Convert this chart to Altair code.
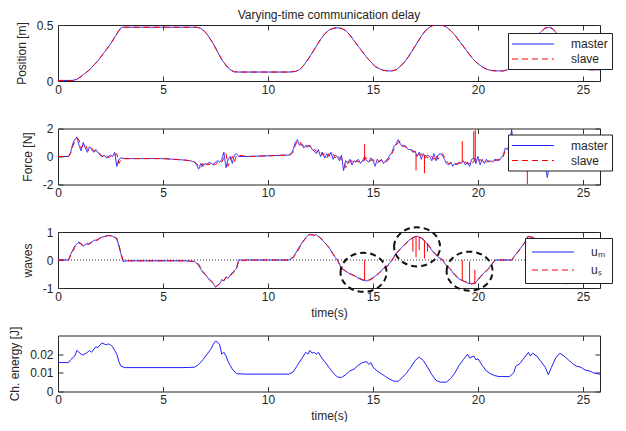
import altair as alt
import pandas as pd

FONT = "Liberation Sans"
TXT = "#262626"
W = 542
H = 56
XMAX = 25.81
BLUE = "#1f1fff"
RED = "#ff0000"

# ---------------- Position [m] ----------------
pos_t = [0, 0.7, 0.9, 1.1, 1.3, 1.5, 1.7, 1.9, 2.1, 2.3,
         2.5, 2.7, 2.9, 3.0, 3.1, 4, 5, 6, 6.6, 6.8,
         7.0, 7.2, 7.4, 7.6, 7.8, 8.0, 8.2, 8.4, 8.6, 9,
         10, 11, 11.3, 11.5, 11.7, 11.9, 12.1, 12.3, 12.5, 12.7,
         12.9, 13.1, 13.3, 13.5, 13.7, 13.9, 14.1, 14.3, 14.5, 14.7,
         14.9, 15.1, 15.3, 15.5, 15.7, 15.9, 16.1, 16.3, 16.5, 16.7,
         16.9, 17.1, 17.3, 17.5, 17.7, 17.9, 18.1, 18.3, 18.5, 18.7,
         18.9, 19.1, 19.3, 19.5, 19.7, 19.9, 20.1, 20.3, 20.5, 20.7,
         20.9, 21.2, 21.4, 21.6, 21.8, 22.0, 22.2, 22.4, 22.6, 22.8,
         23.0, 23.2, 23.4, 23.6, 23.8, 24.0, 24.2, 24.4, 24.6, 24.8,
         25.0, 25.3, 26, 27.1]
pos_master = [0.005, 0.005, 0.015, 0.04, 0.07, 0.1, 0.14, 0.18, 0.23, 0.28,
              0.33, 0.39, 0.45, 0.475, 0.48, 0.48, 0.48, 0.48, 0.48, 0.47,
              0.44, 0.39, 0.33, 0.26, 0.19, 0.14, 0.1, 0.082, 0.08, 0.08,
              0.08, 0.08, 0.085, 0.1, 0.14, 0.19, 0.25, 0.31, 0.37, 0.42,
              0.455, 0.47, 0.475, 0.47, 0.45, 0.41, 0.36, 0.31, 0.26, 0.21,
              0.17, 0.13, 0.11, 0.095, 0.09, 0.09, 0.1, 0.13, 0.17, 0.22,
              0.28, 0.34, 0.4, 0.45, 0.48, 0.5, 0.5, 0.5, 0.48, 0.45,
              0.41, 0.36, 0.31, 0.26, 0.21, 0.17, 0.14, 0.115, 0.1, 0.092,
              0.09, 0.09, 0.1, 0.12, 0.16, 0.2, 0.25, 0.3, 0.35, 0.4,
              0.44, 0.47, 0.48, 0.46, 0.41, 0.35, 0.28, 0.22, 0.17, 0.13,
              0.11, 0.1, 0.1, 0.1]
pos_slave = [0.005, 0.005, 0.015, 0.04, 0.07, 0.1, 0.14, 0.18, 0.23, 0.28,
             0.33, 0.39, 0.45, 0.475, 0.48, 0.48, 0.48, 0.48, 0.48, 0.47,
             0.44, 0.39, 0.33, 0.26, 0.19, 0.14, 0.1, 0.082, 0.08, 0.08,
             0.08, 0.08, 0.085, 0.1, 0.14, 0.19, 0.25, 0.31, 0.37, 0.42,
             0.455, 0.47, 0.475, 0.47, 0.45, 0.41, 0.36, 0.31, 0.26, 0.21,
             0.17, 0.13, 0.11, 0.095, 0.09, 0.09, 0.1, 0.13, 0.17, 0.22,
             0.28, 0.34, 0.4, 0.45, 0.48, 0.5, 0.5, 0.5, 0.48, 0.45,
             0.41, 0.36, 0.31, 0.26, 0.21, 0.17, 0.14, 0.115, 0.1, 0.092,
             0.09, 0.09, 0.1, 0.12, 0.16, 0.2, 0.25, 0.3, 0.35, 0.4,
             0.44, 0.475, 0.49, 0.46, 0.41, 0.35, 0.28, 0.22, 0.17, 0.13,
             0.11, 0.1, 0.1, 0.1]

# ---------------- Force [N] ----------------
force_t = [0.0, 0.5, 0.6, 0.7, 0.8, 0.9, 1.0, 1.1, 1.2, 1.3,
           1.4, 1.5, 1.6, 1.7, 1.8, 1.9, 2.0, 2.1, 2.2, 2.3,
           2.4, 2.5, 2.6, 2.7, 2.8, 2.9, 3.0, 3.2, 4.0, 5.0,
           5.5, 6.0, 6.3, 6.5, 6.6, 6.7, 6.8, 6.9, 7.0, 7.1,
           7.2, 7.3, 7.4, 7.5, 7.6, 7.7, 7.8, 7.9, 8.0, 8.1,
           8.2, 8.3, 8.4, 8.5, 8.6, 9.0, 10.0, 10.9, 11.0, 11.1,
           11.2, 11.3, 11.4, 11.5, 11.6, 11.7, 11.8, 11.9, 12.0, 12.1,
           12.2, 12.3, 12.4, 12.5, 12.6, 12.7, 12.8, 12.9, 13.0, 13.1,
           13.2, 13.3, 13.4, 13.5, 13.6, 13.7, 13.8, 13.9, 14.0, 14.1,
           14.2, 14.3, 14.4, 14.5, 14.6, 14.7, 14.8, 14.9, 15.0, 15.1,
           15.2, 15.3, 15.4, 15.5, 15.6, 15.7, 15.8, 15.9, 16.0, 16.1,
           16.2, 16.3, 16.4, 16.5, 16.6, 16.7, 16.8, 16.9, 17.0, 17.1,
           17.2, 17.3, 17.4, 17.5, 17.6, 17.7, 17.8, 17.9, 18.0, 18.1,
           18.2, 18.3, 18.4, 18.5, 18.6, 18.7, 18.8, 18.9, 19.0, 19.1,
           19.2, 19.3, 19.4, 19.5, 19.6, 19.7, 19.8, 19.9, 20.0, 20.1,
           20.2, 20.3, 20.4, 20.5, 20.6, 20.7, 20.8, 21.0, 21.1, 21.2,
           21.3, 21.4, 21.5, 21.6, 21.7, 21.8, 21.9, 22.0, 22.1, 22.2,
           22.3, 22.4, 22.5, 22.6, 22.8, 23.0, 23.2, 23.3, 23.4, 23.6,
           24.0, 25.0, 26.0, 27.1]
force_master = [0.0, 0.0, 0.3, 0.9, 1.2, 1.4, 0.8, 0.4, 1.0, 0.6,
                0.3, 0.7, 0.5, 0.3, 0.5, 0.3, 0.1, 0.0, 0.1, -0.1,
                0.0, 0.1, 0.0, 0.3, -0.7, -0.2, -0.1, -0.15, -0.15, -0.15,
                -0.2, -0.25, -0.3, -0.4, -0.6, -0.9, -0.5, -0.7, -0.5, -0.6,
                -0.4, -0.5, -0.6, -0.4, -0.3, -0.4, -0.2, 0.3, -0.8, -0.2,
                0.0, -0.5, 0.1, 0.2, 0.0, 0.0, 0.05, 0.1, 0.1, 0.2,
                0.5, 1.0, 1.2, 0.8, 0.9, 0.6, 0.8, 0.7, 0.8, 0.5,
                0.4, 0.2, 0.5, 0.0, 0.3, -0.1, 0.2, 0.0, 0.3, -0.2,
                0.1, 0.0, -0.3, 0.1, -1.0, -0.3, -0.5, -0.2, -0.6, -0.3,
                -0.4, -0.2, -0.5, -0.3, 0.0, -0.3, -0.4, -0.1, -0.3, -0.7,
                -0.2, -0.4, -0.2, -0.5, -0.3, -0.2, 0.1, 0.3, 0.7, 0.9,
                1.2, 0.9, 0.7, 0.8, 0.6, 0.5, 0.5, 0.3, 0.4, 0.0,
                0.3, -0.2, 0.2, -0.1, 0.1, 0.0, -0.3, 0.2, -0.3, 0.1,
                0.2, 0.1, -0.2, -0.5, -0.6, -0.4, -0.7, -0.5, -0.6, -0.4,
                -0.5, -0.3, -0.6, -0.4, -0.7, -0.2, -0.1, -0.5, 0.0, -0.6,
                -0.2, -0.5, -0.2, -0.4, -0.3, -0.4, -0.2, -0.3, -0.1, 0.1,
                0.6, 0.5, 0.8, 1.9, 0.9, 0.4, 0.8, 0.3, 0.7, 0.2,
                0.5, -0.2, -0.5, -0.3, -0.6, -0.4, -0.6, -1.5, -0.6, -0.7,
                -0.7, -0.7, -0.7, -0.7]
force_slave = [0.0, 0.0, 0.2, 0.7, 1.1, 1.3, 1.2, 0.6, 0.8, 0.9,
               0.5, 0.4, 0.6, 0.4, 0.4, 0.4, 0.2, 0.0, 0.0, 0.1,
               -0.1, 0.0, 0.1, 0.1, 0.2, -0.5, -0.2, -0.15, -0.15, -0.15,
               -0.2, -0.25, -0.3, -0.4, -0.5, -0.7, -0.8, -0.5, -0.7, -0.5,
               -0.6, -0.4, -0.5, -0.6, -0.4, -0.3, -0.4, -0.1, 0.2, -0.7,
               -0.3, 0.0, -0.4, 0.1, 0.1, 0.0, 0.05, 0.1, 0.1, 0.15,
               0.3, 0.8, 1.1, 1.1, 0.8, 0.8, 0.6, 0.8, 0.7, 0.7,
               0.5, 0.4, 0.3, 0.4, 0.1, 0.2, -0.1, 0.2, 0.1, 0.2,
               -0.1, 0.1, -0.1, -0.2, -0.3, -0.8, -0.4, -0.4, -0.3, -0.5,
               -0.3, -0.4, -0.3, -0.4, -0.2, -0.1, -0.3, -0.3, -0.2, -0.4,
               -0.5, -0.3, -0.3, -0.3, -0.4, -0.3, -0.1, 0.2, 0.5, 0.8,
               1.0, 1.1, 0.8, 0.7, 0.7, 0.6, 0.5, 0.4, 0.3, 0.3,
               0.1, 0.2, -0.1, 0.1, -0.1, 0.1, 0.0, -0.2, 0.1, -0.2,
               0.1, 0.2, 0.0, -0.3, -0.5, -0.5, -0.5, -0.6, -0.5, -0.5,
               -0.4, -0.4, -0.4, -0.5, -0.5, -0.6, -0.3, -0.2, -0.4, -0.2,
               -0.4, -0.3, -0.4, -0.3, -0.4, -0.3, -0.3, -0.2, -0.2, 0.0,
               0.4, 0.6, 0.6, 1.2, 1.4, 0.6, 0.6, 0.6, 0.5, 0.5,
               0.3, 0.1, -0.4, -0.4, -0.5, -0.5, -0.5, -0.8, -0.9, -0.7,
               -0.7, -0.7, -0.7, -0.7]
force_spike_t = [14.6, 17.05, 17.45, 19.25, 19.8, 19.87, 21.6, 22.35]
force_spike_lo = [-0.3, -1.0, -1.2, -0.4, -0.2, -0.4, 0.8, -2.0]
force_spike_hi = [0.9, 0.2, 0.1, 1.1, 1.8, 1.9, 2.0, 0.3]

# ---------------- waves ----------------
waves_t = [0.0, 0.5, 0.6, 0.8, 1.0, 1.1, 1.2, 1.4, 1.5, 1.7,
           1.9, 2.0, 2.2, 2.4, 2.6, 2.8, 2.9, 3.0, 3.1, 3.3,
           4.0, 5.0, 6.0, 6.5, 6.7, 6.9, 7.0, 7.2, 7.4, 7.5,
           7.6, 7.7, 7.8, 7.9, 8.0, 8.1, 8.3, 8.5, 8.6, 9.0,
           10.0, 11.0, 11.2, 11.4, 11.6, 11.8, 11.9, 12.0, 12.2, 12.3,
           12.5, 12.7, 12.9, 13.1, 13.3, 13.5, 13.7, 13.9, 14.1, 14.3,
           14.5, 14.7, 14.9, 15.1, 15.3, 15.5, 15.7, 15.9, 16.1, 16.3,
           16.5, 16.7, 16.9, 17.1, 17.3, 17.5, 17.7, 17.9, 18.1, 18.3,
           18.5, 18.7, 18.9, 19.1, 19.3, 19.5, 19.7, 19.9, 20.1, 20.3,
           20.5, 20.7, 20.8, 21.0, 21.6, 21.8, 22.0, 22.2, 22.4, 22.6,
           22.8, 23.0, 23.2, 23.3, 23.4, 23.5, 23.7, 24.2, 24.7, 25.2,
           25.5, 26.0, 27.1]
waves_m = [0.0, 0.0, 0.2, 0.5, 0.65, 0.55, 0.5, 0.6, 0.55, 0.7,
           0.72, 0.8, 0.83, 0.88, 0.85, 0.75, 0.5, 0.2, -0.05, -0.03,
           -0.03, -0.03, -0.03, -0.05, -0.2, -0.45, -0.5, -0.7, -0.85, -0.97,
           -0.9, -0.85, -0.7, -0.75, -0.6, -0.65, -0.45, -0.3, 0.0, 0.0,
           0.0, 0.0, 0.1, 0.35, 0.6, 0.8, 0.88, 0.92, 0.88, 0.9,
           0.78, 0.62, 0.45, 0.2, 0.0, -0.3, -0.4, -0.5, -0.55, -0.65,
           -0.72, -0.75, -0.68, -0.58, -0.45, -0.3, -0.2, 0.0, 0.25, 0.4,
           0.55, 0.7, 0.8, 0.85, 0.78, 0.65, 0.45, 0.25, 0.1, 0.0,
           -0.2, -0.35, -0.55, -0.68, -0.75, -0.82, -0.85, -0.8, -0.6, -0.45,
           -0.3, -0.1, 0.0, 0.0, 0.0, 0.2, 0.4, 0.6, 0.85, 0.8,
           0.75, 0.65, 0.45, 0.2, -0.3, -0.5, -0.8, -0.85, -0.6, -0.2,
           -0.05, -0.05, -0.05]
waves_s = [0.0, 0.0, 0.15, 0.45, 0.6, 0.6, 0.5, 0.55, 0.6, 0.68,
           0.72, 0.78, 0.84, 0.87, 0.86, 0.78, 0.55, 0.25, 0.0, -0.03,
           -0.03, -0.03, -0.03, -0.05, -0.15, -0.4, -0.5, -0.68, -0.82, -0.95,
           -0.92, -0.83, -0.72, -0.73, -0.62, -0.6, -0.5, -0.32, -0.05, 0.0,
           0.0, 0.0, 0.08, 0.3, 0.58, 0.78, 0.9, 0.9, 0.9, 0.88,
           0.8, 0.62, 0.47, 0.22, 0.02, -0.28, -0.4, -0.48, -0.56, -0.63,
           -0.7, -0.74, -0.7, -0.6, -0.47, -0.32, -0.22, -0.02, 0.22, 0.38,
           0.53, 0.68, 0.8, 0.86, 0.8, 0.67, 0.48, 0.28, 0.12, 0.02,
           -0.18, -0.33, -0.52, -0.66, -0.75, -0.8, -0.86, -0.82, -0.62, -0.47,
           -0.32, -0.12, -0.02, 0.0, 0.0, 0.18, 0.38, 0.58, 0.83, 0.82,
           0.76, 0.66, 0.48, 0.25, -0.25, -0.45, -0.78, -0.85, -0.62, -0.22,
           -0.05, -0.05, -0.05]
wave_spike_t = [14.6, 16.9, 17.05, 17.2, 17.45, 17.6, 19.25, 19.6, 19.85, 22.35]
wave_spike_lo = [-0.72, 0.3, 0.1, 0.35, 0.05, 0.3, -0.75, -0.85, -0.82, 0.1]
wave_spike_hi = [0.0, 0.8, 0.85, 0.82, 0.7, 0.6, 0.0, -0.05, -0.35, 0.85]
circle_t = [14.55, 17.1, 19.6]
circle_v = [-0.44, 0.47, -0.4]

# ---------------- Ch. energy [J] ----------------
energy_t = [0.0, 0.5, 0.6, 0.8, 0.9, 1.0, 1.1, 1.2, 1.4, 1.5,
            1.6, 1.8, 1.9, 2.0, 2.1, 2.2, 2.3, 2.4, 2.5, 2.6,
            2.7, 2.8, 2.9, 3.0, 3.2, 4.0, 5.0, 6.0, 6.5, 6.7,
            6.9, 7.1, 7.3, 7.4, 7.5, 7.6, 7.7, 7.8, 7.9, 8.0,
            8.1, 8.2, 8.3, 8.5, 9.0, 10.0, 11.0, 11.2, 11.4, 11.6,
            11.8, 11.9, 12.0, 12.1, 12.2, 12.3, 12.4, 12.5, 12.7, 12.9,
            13.1, 13.3, 13.5, 13.7, 13.9, 14.1, 14.3, 14.5, 14.7, 14.8,
            14.9, 15.0, 15.2, 15.4, 15.6, 15.8, 16.0, 16.2, 16.4, 16.6,
            16.8, 17.0, 17.2, 17.4, 17.6, 17.8, 18.0, 18.2, 18.5, 18.7,
            18.9, 19.1, 19.3, 19.5, 19.6, 19.8, 19.9, 20.0, 20.2, 20.4,
            20.6, 20.8, 21.0, 21.5, 21.7, 21.8, 22.0, 22.2, 22.4, 22.5,
            22.6, 22.8, 23.0, 23.2, 23.35, 23.5, 23.7, 23.9, 24.1, 24.3,
            24.5, 24.7, 24.9, 25.1, 25.3, 25.5, 25.7, 25.9, 27.1]
energy_v = [0.0155, 0.0155, 0.017, 0.019, 0.022, 0.021, 0.02, 0.0195, 0.021, 0.022,
            0.021, 0.024, 0.0235, 0.025, 0.026, 0.0255, 0.025, 0.0255, 0.025, 0.024,
            0.022, 0.02, 0.016, 0.0135, 0.0128, 0.0128, 0.0128, 0.0128, 0.013, 0.0145,
            0.017, 0.02, 0.023, 0.0255, 0.027, 0.0265, 0.025, 0.02, 0.021, 0.019,
            0.016, 0.014, 0.012, 0.0095, 0.0093, 0.0093, 0.0093, 0.0105, 0.014, 0.0175,
            0.021, 0.02, 0.022, 0.0205, 0.021, 0.02, 0.021, 0.019, 0.016, 0.013,
            0.01, 0.0078, 0.0075, 0.009, 0.011, 0.012, 0.014, 0.0155, 0.016, 0.0145,
            0.0155, 0.013, 0.011, 0.0095, 0.008, 0.0065, 0.0055, 0.0055, 0.0075, 0.01,
            0.013, 0.0165, 0.0185, 0.0165, 0.013, 0.009, 0.006, 0.005, 0.005, 0.007,
            0.01, 0.014, 0.017, 0.02, 0.018, 0.019, 0.017, 0.0175, 0.014, 0.011,
            0.0095, 0.0085, 0.008, 0.008, 0.01, 0.0135, 0.015, 0.018, 0.021, 0.019,
            0.0205, 0.019, 0.016, 0.013, 0.009, 0.013, 0.018, 0.0205, 0.019, 0.017,
            0.015, 0.0135, 0.013, 0.0115, 0.011, 0.01, 0.0095, 0.009, 0.009]

x_ticks = [0, 5, 10, 15, 20, 25]
ELLIPSE = "M -1 0 A 1 0.85 0 1 1 1 0 A 1 0.85 0 1 1 -1 0 Z"
LEG_LINE = "M -3.5 0 H 3.5"


def two_series(t, a, b, names):
    return pd.concat([
        pd.DataFrame({"t": t, "v": a, "series": names[0]}),
        pd.DataFrame({"t": t, "v": b, "series": names[1]}),
    ], ignore_index=True)


def x_bottom(title=None):
    return alt.Axis(orient="bottom", values=x_ticks, labelExpr="'' + datum.value",
                    tickSize=5, offset=-5, domain=False, grid=False, labelPadding=3,
                    labelFlush=False, labelOverlap=False, labelBound=False,
                    title=title, titlePadding=5)


def y_left(values, title):
    return alt.Axis(orient="left", values=values, labelExpr="'' + datum.value",
                    tickSize=5, offset=-5, domain=False, grid=False, labelPadding=5,
                    labelFlush=False, labelOverlap=False, labelBound=False,
                    title=title, titlePadding=8)


def tick_layer(df, ydom, yvals):
    return alt.Chart(df).mark_point(opacity=0, clip=True).encode(
        x=alt.X("t:Q", scale=alt.Scale(domain=[0, XMAX], nice=False),
                axis=alt.Axis(orient="top", values=x_ticks, tickSize=5, offset=-5,
                              labels=False, domain=False, grid=False, title=None,
                              minExtent=0)),
        y=alt.Y("v:Q", scale=alt.Scale(domain=ydom, nice=False, zero=False),
                axis=alt.Axis(orient="right", values=yvals, tickSize=5, offset=-5,
                              labels=False, domain=False, grid=False, title=None,
                              minExtent=0)),
    )


def make_legend(x, y, pad, rowpad):
    return alt.Legend(orient="none", legendX=x, legendY=y, title=None,
                      symbolType=LEG_LINE, symbolSize=144, symbolStrokeWidth=1.2,
                      symbolOffset=14, labelOffset=31,
                      labelFontSize=12, labelFont=FONT, labelColor=TXT,
                      fillColor="white", strokeColor="#222", padding=pad,
                      rowPadding=rowpad)


def line_panel(df, names, ydom, yvals, ytitle, leg, xtitle=None):
    cscale = alt.Scale(domain=names, range=[BLUE, RED])
    dscale = alt.Scale(domain=names, range=[[1, 0], [6, 4]])
    return alt.Chart(df).mark_line(strokeWidth=1, clip=True).encode(
        x=alt.X("t:Q", scale=alt.Scale(domain=[0, XMAX], nice=False), axis=x_bottom(xtitle)),
        y=alt.Y("v:Q", scale=alt.Scale(domain=ydom, nice=False, zero=False),
                axis=y_left(yvals, ytitle)),
        color=alt.Color("series:N", scale=cscale, legend=leg),
        strokeDash=alt.StrokeDash("series:N", scale=dscale, legend=leg),
    )


def spikes(t, lo, hi):
    df = pd.DataFrame({"t": t, "lo": lo, "hi": hi})
    return alt.Chart(df).mark_rule(color=RED, strokeWidth=1, clip=True).encode(
        x=alt.X("t:Q", axis=None), y=alt.Y("lo:Q", axis=None), y2="hi:Q")


# Panel 1
df1 = two_series(pos_t, pos_master, pos_slave, ["master", "slave"])
p1 = alt.layer(
    line_panel(df1, ["master", "slave"], [0, 0.5], [0, 0.5], "Position [m]",
               make_legend(450, 8, 4, 2)),
    tick_layer(df1, [0, 0.5], [0, 0.5]),
).properties(width=W, height=H, title=alt.Title(
    "Varying-time communication delay", fontSize=12, font=FONT,
    fontWeight="normal", color=TXT, offset=-3, anchor="middle"))

# Panel 2
df2 = two_series(force_t, force_master, force_slave, ["master", "slave"])
p2 = alt.layer(
    line_panel(df2, ["master", "slave"], [-2, 2], [-2, 0, 2], "Force [N]",
               make_legend(450, 6, 4, 2)),
    spikes(force_spike_t, force_spike_lo, force_spike_hi),
    tick_layer(df2, [-2, 2], [-2, 0, 2]),
).properties(width=W, height=H)

# Panel 3
df3 = two_series(waves_t, waves_m, waves_s, ["uₘ", "uₛ"])
zero_df = pd.DataFrame({"v": [0]})
circ_df = pd.DataFrame({"t": circle_t, "v": circle_v})
p3 = alt.layer(
    alt.Chart(zero_df).mark_rule(color="#333333", strokeDash=[1, 2], strokeWidth=1).encode(
        y=alt.Y("v:Q", axis=None)),
    line_panel(df3, ["uₘ", "uₛ"], [-1, 1], [-1, 0, 1], "waves",
               make_legend(467, 6, 7, 5), xtitle="time(s)"),
    spikes(wave_spike_t, wave_spike_lo, wave_spike_hi),
    alt.Chart(circ_df).mark_point(shape=ELLIPSE, size=2116, filled=False, color="#111111",
                                  strokeWidth=2, strokeDash=[6, 4], opacity=1).encode(
        x=alt.X("t:Q", axis=None), y=alt.Y("v:Q", axis=None)),
    tick_layer(df3, [-1, 1], [-1, 0, 1]),
).properties(width=W, height=H)

# Panel 4
df4 = pd.DataFrame({"t": energy_t, "v": energy_v})
p4 = alt.layer(
    alt.Chart(df4).mark_line(strokeWidth=1, color=BLUE, clip=True).encode(
        x=alt.X("t:Q", scale=alt.Scale(domain=[0, XMAX], nice=False), axis=x_bottom("time(s)")),
        y=alt.Y("v:Q", scale=alt.Scale(domain=[0, 0.03], nice=False),
                axis=y_left([0, 0.01, 0.02], "Ch. energy [J]"))),
    tick_layer(df4, [0, 0.03], [0, 0.01, 0.02]),
).properties(width=W, height=H)

chart = alt.vconcat(p1, p2, p3, p4, spacing=47.5, bounds="flush").resolve_scale(
    color="independent", strokeDash="independent"
).resolve_legend(color="independent", strokeDash="independent").properties(
    padding={"left": 0, "top": 0, "right": 0, "bottom": 0}, background="white"
).configure_view(stroke="#222222", strokeWidth=1).configure_axis(
    labelFont=FONT, labelFontSize=12, labelColor=TXT, tickColor="#333333",
    titleFont=FONT, titleFontSize=12, titleFontWeight="normal", titleColor=TXT
)

chart.save("out.html", embed_options={"renderer": "svg", "actions": False})
